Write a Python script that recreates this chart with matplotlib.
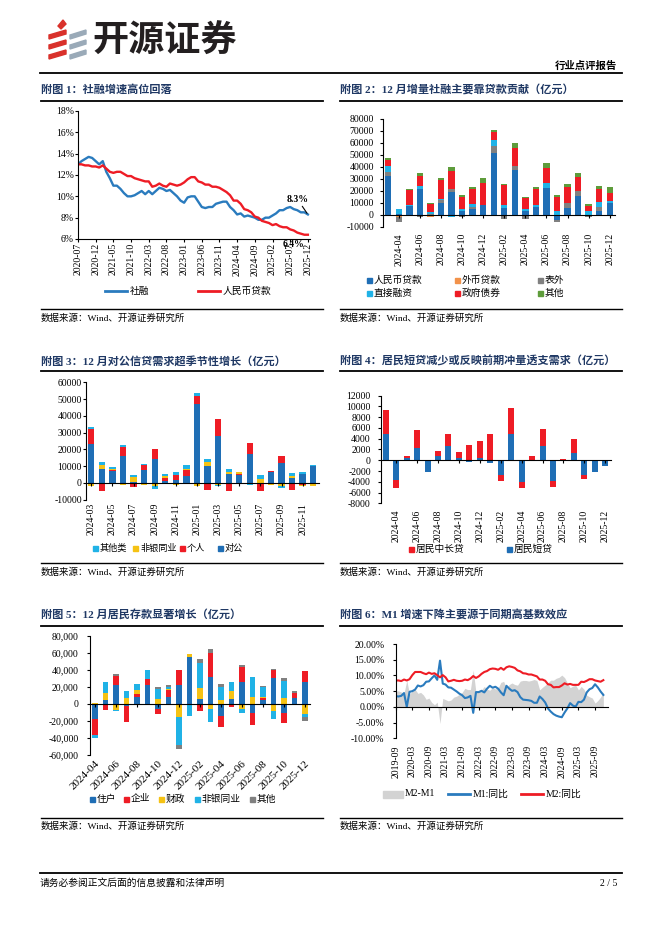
import numpy as np
import pandas as pd
import matplotlib
matplotlib.use('Agg')
import matplotlib.pyplot as plt
from matplotlib.patches import Rectangle, Polygon
from matplotlib.lines import Line2D

plt.rcParams['font.family'] = ['Liberation Serif', 'Noto Sans CJK SC']
plt.rcParams['axes.unicode_minus'] = False

# ---------------- data ----------------
# chart 1: 社融 / 人民币贷款 growth, 2020-07 .. 2025-12
months1 = list(pd.period_range('2020-07', '2025-12', freq='M').strftime('%Y-%m'))
tsf_yoy = [13.0, 13.3, 13.5, 13.7, 13.6, 13.3,
           13.0, 13.3, 12.3, 11.7, 11.0, 11.0, 10.7, 10.3, 10.0, 10.0, 10.1, 10.3,
           10.5, 10.2, 10.5, 10.2, 10.5, 10.8, 10.7, 10.5, 10.6, 10.3, 10.0, 9.6,
           9.4, 9.9, 10.0, 10.0, 9.5, 9.0, 8.9, 9.0, 9.0, 9.3, 9.4, 9.5,
           9.5, 9.0, 8.7, 8.3, 8.4, 8.1, 8.2, 8.1, 8.0, 7.8, 7.8, 8.0,
           8.0, 8.2, 8.4, 8.7, 8.7, 8.9, 9.0, 8.8, 8.7, 8.5, 8.5, 8.3]
loan_yoy = [13.0, 13.0, 12.9, 12.9, 12.8, 12.8,
            12.7, 12.9, 12.6, 12.3, 12.2, 12.3, 12.3, 12.1, 11.9, 11.9, 11.7, 11.6,
            11.5, 11.4, 11.4, 10.9, 11.0, 11.2, 11.0, 10.9, 11.2, 11.1, 11.0, 11.1,
            11.3, 11.6, 11.8, 11.8, 11.4, 11.3, 11.1, 11.1, 10.9, 10.9, 10.8, 10.6,
            10.4, 10.1, 9.6, 9.6, 9.3, 8.8, 8.7, 8.5, 8.1, 8.0, 7.7, 7.6,
            7.5, 7.3, 7.4, 7.2, 7.1, 7.1, 6.9, 6.8, 6.6, 6.5, 6.4, 6.4]

# chart 2: 社融增量构成 (亿元), 2024-03 .. 2025-12
months2 = list(pd.period_range('2024-03', '2025-12', freq='M').strftime('%Y-%m'))
rmb_loan = [32500, 1000, 7800, 21900, -1000, 10300, 19400, 3500, 5300, 8000, 52000,
            6100, 37500, 3300, 6900, 22800, -4200, 6100, 15800, -1000, 3600, 9700]
fx_loan = [0, -1500, 0, 0, -1000, 0, 0, 0, 0, 0, 0,
           0, 0, 0, 0, 0, 0, 0, 0, 0, 0, 0]
off_bs = [3600, -4500, -1000, -1500, 1000, 2200, 1900, -1500, 1500, 500, 5500,
          -3500, 3600, -3000, -600, -800, -1500, 3600, 4200, -500, 2800, -1000]
direct_fin = [4700, 4000, 800, 2200, 1500, 1100, -2000, 1500, 2400, 0, 5000,
              2200, 0, 1400, 1100, 3600, 3000, 0, 0, 3300, 4400, 2200]
gov_bond = [5000, 0, 12200, 8300, 7000, 15500, 15300, 10000, 12500, 17800, 6700,
            16700, 15000, 9200, 13600, 12500, 12000, 13900, 11900, 4200, 10800, 6700]
tsf_other = [2000, 0, 1100, 2500, 500, 1400, 3000, 1500, 1400, 4200, 1700,
             800, 3600, 800, 1900, 4700, 1500, 2200, 3300, 1700, 2500, 4400]

# chart 3: 信贷构成 (亿元), 2024-03 .. 2025-12
corp = [23300, 8200, 7000, 16100, 800, 7800, 14100, 1000, 2000, 4200, 47100,
        10300, 28000, 5200, 4800, 17300, 0, 6400, 11700, 3200, 5400, 10300]
personal = [8700, -5000, 1000, 5200, -2500, 2600, 6200, 2000, 2800, 3600, 4800,
            -4000, 10300, -5000, 600, 6600, -5000, 600, 4400, -4000, -1500, 0]
nonbank3 = [-2000, 2600, 500, -1500, 2500, -1500, -2000, 1000, -1000, 600, -2000,
            2400, -1500, 1400, 1200, 0, 2300, -1500, -2000, 1200, -500, -2000]
other3 = [1600, 1800, 1000, 1400, 1500, 600, -1500, 1500, 2000, 2000, 1800,
          1600, -500, 1600, 0, -1000, 2400, 300, -1000, 1600, 1200, 400]

# chart 4: 居民贷款 (亿元), 2024-03 .. 2025-12
hh_short = [4800, -3600, 400, 2300, -2100, 700, 2600, 500, -300, 500, -500,
            -2700, 4800, -4000, -200, 2600, -3800, 0, 1300, -2800, -2100, -1000]
hh_long = [4500, -1600, 300, 3300, 0, 1100, 2300, 1100, 2900, 3000, 4800,
           -1100, 5000, -1200, 700, 3300, -1100, 250, 2600, -600, 0, 0]

# chart 5: 存款构成 (亿元), 2024-04 .. 2025-12
months5 = list(pd.period_range('2024-04', '2025-12', freq='M').strftime('%Y-%m'))
dep_hh = [-18000, 4300, 21900, -3000, 7400, 22300, -6000, 7800, 21900, 54700, 5900,
          30900, -14500, 5100, 25000, -11000, 3900, 30100, -11000, 6500, 25800]
dep_corp = [-18400, -7500, 10200, -18000, 3500, 7000, -6500, 7800, 18000, 0, -8500,
            28500, -13000, -3500, 17600, -14000, 2700, 9000, -11500, 6500, 12100]
dep_fiscal = [1000, 8200, -7000, 7000, 5500, -1500, 5900, 1600, -16000, 3900, 12900,
              -6500, 3900, 9400, -6500, 8200, 1600, -8000, 7000, 0, -12000]
dep_nonbank = [-3500, 12500, -2000, 7400, 6300, 10200, 11300, 2000, -33000, -14000, 28900,
               -14500, 16000, 10500, -5000, 22700, 10900, -10000, 19900, 0, -4000]
dep_other = [-500, 0, 3100, 0, 0, 0, 2000, 2600, -4500, 0, 5100,
             4700, 2700, 500, 3100, 0, 2000, 2000, 3900, 2000, -4500]

# chart 6: M1 / M2 yoy, 2019-09 .. 2025-12
months6 = list(pd.period_range('2019-09', '2025-12', freq='M').strftime('%Y-%m'))
m1_yoy = [3.4, 3.3, 3.5, 4.4,
          0.0, 4.8, 5.0, 5.5, 6.8, 6.5, 6.9, 8.0, 8.1, 9.1, 10.0, 8.6,
          14.7, 7.4, 7.1, 6.2, 6.1, 5.5, 4.9, 4.2, 3.7, 2.8, 3.0, 3.5,
          -1.9, 4.7, 4.7, 5.1, 4.6, 5.8, 6.7, 6.1, 6.4, 5.8, 4.6, 3.7,
          6.7, 5.8, 5.1, 5.3, 4.7, 3.1, 2.3, 2.2, 2.1, 1.9, 1.3, 1.3,
          3.3, 2.5, 1.4, -0.5, -1.5, -2.3, -2.8, -3.1, -3.3, -1.8, -0.5, 1.2,
          0.4, 0.1, 1.6, 1.5, 2.3, 4.6, 5.6, 6.0, 7.2, 6.2, 4.9, 3.8]
m2_yoy = [8.4, 8.4, 8.2, 8.7,
          8.4, 8.8, 10.1, 11.1, 11.1, 11.1, 10.7, 10.4, 10.9, 10.5, 10.7, 10.1,
          9.4, 10.1, 9.4, 8.1, 8.3, 8.6, 8.3, 8.2, 8.3, 8.7, 8.5, 9.0,
          9.8, 9.2, 9.7, 10.5, 11.1, 11.4, 12.0, 12.2, 12.1, 11.8, 12.4, 11.8,
          12.6, 12.9, 12.7, 12.4, 11.6, 11.3, 10.7, 10.6, 10.3, 10.3, 10.0, 9.7,
          8.7, 8.7, 8.3, 7.2, 7.0, 6.2, 6.3, 6.3, 6.8, 7.5, 7.1, 7.3,
          7.0, 7.0, 7.0, 8.0, 7.9, 8.3, 8.8, 8.8, 8.4, 8.2, 8.0, 8.5]

BLUE = '#1F6EB5'
RED = '#EE1C25'
ORANGE = '#F2924A'
GRAY = '#808080'
CYAN = '#20B2E6'
GREEN = '#5E9C3B'
YELLOW = '#F5C214'
NAVY = '#1F3864'

# ---------------- page ----------------
W, H = 662, 936
fig = plt.figure(figsize=(W / 100, H / 100), dpi=100)


def fx(x):
    return x / W


def fy(y):
    return 1 - y / H


def axes_px(x0, y0, x1, y1):
    return fig.add_axes([fx(x0), fy(y1), (x1 - x0) / W, (y1 - y0) / H])


def hline(x0, x1, y, lw=1.0):
    fig.add_artist(Line2D([fx(x0), fx(x1)], [fy(y), fy(y)], color='black', lw=lw))


def text(x, y, s, size=7, **kw):
    fig.text(fx(x), fy(y), s, fontsize=size, va='center', **kw)


def leg(x, y, color, label, kind='sq', size=7):
    if kind == 'sq':
        fig.add_artist(Rectangle((fx(x), fy(y + 2.5)), 5 / W, 5 / H, color=color,
                                 transform=fig.transFigure))
        text(x + 7, y, label, size)
    elif kind == 'line':
        fig.add_artist(Line2D([fx(x), fx(x + 22)], [fy(y)] * 2, color=color, lw=2))
        text(x + 25, y, label, size)
    else:
        fig.add_artist(Rectangle((fx(x), fy(y + 3.5)), 20 / W, 7 / H, color=color,
                                 transform=fig.transFigure))
        text(x + 22, y, label, size)


def stack_bars(ax, series, colors, width):
    x = np.arange(len(series[0]))
    pos = np.zeros(len(x))
    neg = np.zeros(len(x))
    for vals, c in zip(series, colors):
        v = np.asarray(vals, dtype=float)
        p = np.where(v > 0, v, 0)
        n = np.where(v < 0, v, 0)
        ax.bar(x, p, width, bottom=pos, color=c, lw=0)
        ax.bar(x, n, width, bottom=neg, color=c, lw=0)
        pos += p
        neg += n


def style(ax, ticks, labels, xpad, ypad, rot=90, fs=7, zero_spine=True):
    for s in ['top', 'right']:
        ax.spines[s].set_visible(False)
    ax.spines['left'].set_linewidth(0.8)
    ax.spines['bottom'].set_linewidth(0.8)
    if zero_spine:
        ax.spines['bottom'].set_position(('data', 0))
    ax.tick_params(axis='y', length=2, width=0.8, labelsize=fs, pad=ypad)
    ax.tick_params(axis='x', length=2, width=0.8, labelsize=fs, pad=xpad)
    ax.set_xticks(ticks)
    ax.set_xticklabels(labels, rotation=rot)
    ax.patch.set_alpha(0)


def chart_frame(x0, x1, title, y_title, y_line, y_src_line, y_src):
    text(x0, y_title, title, 8, fontweight='bold', color=NAVY)
    hline(x0, x1, y_line, 1.3)
    hline(x0, x1, y_src_line, 1.0)
    text(x0, y_src, '数据来源：Wind、开源证券研究所', 6.8)


# header
for k in range(3):
    yy = 30 + k * 10
    fig.add_artist(Polygon([(fx(49), fy(yy + 5)), (fx(66), fy(yy)), (fx(66), fy(yy + 4)),
                            (fx(49), fy(yy + 9))], closed=True, color='#D9312B'))
    fig.add_artist(Polygon([(fx(70), fy(yy + 5)), (fx(86), fy(yy)), (fx(86), fy(yy + 4)),
                            (fx(70), fy(yy + 9))], closed=True, color='#9AAAB8'))
fig.add_artist(Polygon([(fx(58), fy(26)), (fx(63), fy(20)), (fx(66), fy(24)), (fx(61), fy(29))],
                       closed=True, color='#D9312B'))
text(92, 41, '开源证券', 26, fontweight='bold', color='#231F20', family='Noto Sans CJK SC')
text(617, 66, '行业点评报告', 7.5, fontweight='bold', ha='right')
hline(40, 622, 73, 1.3)

# footer
hline(40, 622, 873, 1.3)
text(40, 883, '请务必参阅正文后面的信息披露和法律声明', 7)
text(617, 883, '2 / 5', 7, ha='right')

# ---------------- chart 1 ----------------
chart_frame(41, 323, '附图 1：社融增速高位回落', 89, 100.5, 308.5, 318)
ax1 = axes_px(78, 111, 310, 239)
x1 = np.arange(len(months1))
ax1.plot(x1, tsf_yoy, color='#2A7BBE', lw=1.7)
ax1.plot(x1, loan_yoy, color=RED, lw=1.7)
ax1.set_ylim(6, 18)
ax1.set_xlim(0, 65.6)
ax1.set_yticks(np.arange(6, 19, 2))
ax1.set_yticklabels([f'{v}%' for v in range(6, 19, 2)])
idx1 = list(range(0, 66, 5))
style(ax1, idx1, [months1[i] for i in idx1], 1, 1, zero_spine=False)
ax1.annotate(f'{tsf_yoy[-1]:.1f}%', xy=(65, tsf_yoy[-1]), xytext=(62, 9.75),
             ha='center', va='center', fontsize=7, fontweight='bold',
             arrowprops=dict(arrowstyle='-', color='black', lw=0.8, shrinkA=0, shrinkB=1))
ax1.annotate(f'{loan_yoy[-1]:.1f}%', xy=(60.8, 5.45), ha='center', va='center',
             fontsize=7, fontweight='bold', annotation_clip=False)
leg(105, 291, '#2A7BBE', '社融', 'line')
leg(198, 291, RED, '人民币贷款', 'line')

# ---------------- chart 2 ----------------
chart_frame(340, 622, '附图 2：12 月增量社融主要靠贷款贡献（亿元）', 89, 100.5, 308.5, 318)
ax2 = axes_px(383, 119, 615, 227)
stack_bars(ax2, [rmb_loan, fx_loan, off_bs, direct_fin, gov_bond, tsf_other],
           [BLUE, ORANGE, GRAY, CYAN, RED, GREEN], 0.6)
ax2.set_xlim(-0.5, 21.5)
ax2.set_ylim(-10000, 80000)
ax2.set_yticks(np.arange(-10000, 80001, 10000))
idx2 = list(range(1, 22, 2))
style(ax2, idx2, [months2[i] for i in idx2], 11, 4.5)
leg(367, 280, BLUE, '人民币贷款')
leg(455, 280, ORANGE, '外币贷款')
leg(538, 280, GRAY, '表外')
leg(367, 293, CYAN, '直接融资')
leg(455, 293, RED, '政府债券')
leg(538, 293, GREEN, '其他')

# ---------------- chart 3 ----------------
chart_frame(41, 323, '附图 3：12 月对公信贷需求超季节性增长（亿元）', 361.5, 371.5, 562.5, 572)
ax3 = axes_px(86, 382.3, 318.5, 499.7)
stack_bars(ax3, [corp, personal, nonbank3, other3], [BLUE, RED, YELLOW, CYAN], 0.6)
ax3.set_xlim(-0.5, 21.5)
ax3.set_ylim(-10000, 60000)
ax3.set_yticks(np.arange(-10000, 60001, 10000))
idx3 = list(range(0, 22, 2))
style(ax3, idx3, [months2[i] for i in idx3], 12.3, 1)
leg(93, 548, CYAN, '其他类', size=6.6)
leg(133, 548, YELLOW, '非银同业', size=6.6)
leg(180, 548, RED, '个人', size=6.6)
leg(218, 548, BLUE, '对公', size=6.6)

# ---------------- chart 4 ----------------
chart_frame(340, 622, '附图 4：居民短贷减少或反映前期冲量透支需求（亿元）', 361.5, 371.5, 562.5, 572)
ax4 = axes_px(380.5, 395.7, 610.5, 503.3)
stack_bars(ax4, [hh_short, hh_long], [BLUE, RED], 0.58)
ax4.set_xlim(-0.5, 21.5)
ax4.set_ylim(-8000, 12000)
ax4.set_yticks(np.arange(-8000, 12001, 2000))
idx4 = list(range(1, 22, 2))
style(ax4, idx4, [months2[i] for i in idx4], 33.5, 5)
leg(409, 549, RED, '居民中长贷')
leg(507, 549, BLUE, '居民短贷')

# ---------------- chart 5 ----------------
chart_frame(41, 323, '附图 5：12 月居民存款显著增长（亿元）', 614.5, 626, 817.5, 826)
ax5 = axes_px(89.75, 635.7, 310.25, 754.7)
stack_bars(ax5, [dep_hh, dep_corp, dep_fiscal, dep_nonbank, dep_other],
           [BLUE, RED, YELLOW, CYAN, GRAY], 0.55)
ax5.set_xlim(-0.5, 20.5)
ax5.set_ylim(-60000, 80000)
ax5.set_yticks(np.arange(-60000, 80001, 20000))
ax5.set_yticklabels([f'{v:,}' for v in range(-60000, 80001, 20000)])
idx5 = list(range(0, 21, 2))
style(ax5, idx5, [months5[i] for i in idx5], 38, 6, rot=45)
ax5.tick_params(axis='x', labelsize=8)
plt.setp(ax5.get_xticklabels(), ha='right', rotation_mode='anchor')
leg(90, 799, BLUE, '住户')
leg(124, 799, RED, '企业')
leg(159, 799, YELLOW, '财政')
leg(195, 799, CYAN, '非银同业')
leg(250, 799, GRAY, '其他')

# ---------------- chart 6 ----------------
chart_frame(340, 622, '附图 6：M1 增速下降主要源于同期高基数效应', 614.5, 626, 817.5, 826)
ax6 = axes_px(395.7, 644, 607.5, 738.3)
x6 = np.arange(len(months6))
gap = np.array(m2_yoy) - np.array(m1_yoy)
ax6.fill_between(x6, gap, 0, color='#D3D3D3', lw=0)
ax6.plot(x6, m1_yoy, color='#2A7BBE', lw=1.5)
ax6.plot(x6, m2_yoy, color=RED, lw=1.5)
ax6.set_xlim(0, 76.5)
ax6.set_ylim(-10, 20)
ax6.set_yticks(np.arange(-10, 21, 5))
ax6.set_yticklabels([f'{v:.2f}%' for v in range(-10, 21, 5)])
idx6 = list(range(0, 76, 6))
style(ax6, idx6, [months6[i] for i in idx6], 25.6, 6)
leg(383, 794, '#D3D3D3', 'M2-M1', 'area')
leg(448, 794, '#2A7BBE', 'M1:同比', 'line')
leg(521, 794, RED, 'M2:同比', 'line')

fig.savefig('out.png', dpi=100)
